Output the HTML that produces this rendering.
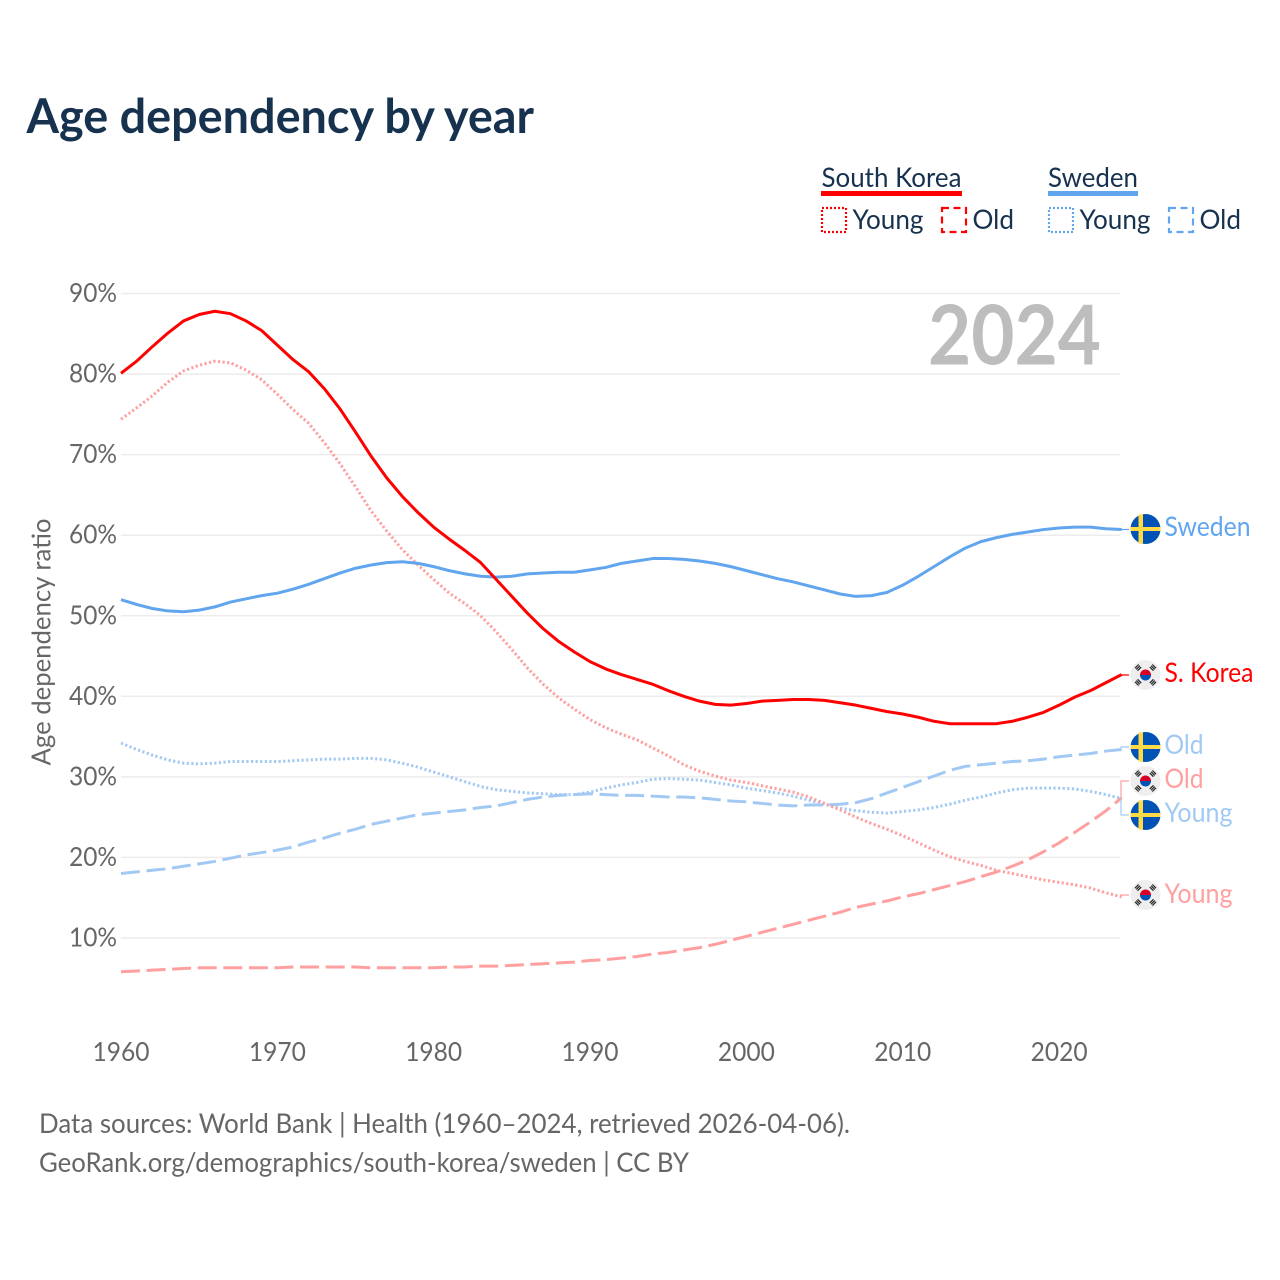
<!DOCTYPE html>
<html lang="en">
<head>
<meta charset="utf-8">
<title>Age dependency by year</title>
<style>
html,body{margin:0;padding:0;background:#fff;}
svg{display:block;}
text{font-family:"Lato","Carlito","Liberation Sans",sans-serif;}
</style>
</head>
<body>
<svg id="chart" width="1280" height="1280" viewBox="0 0 1280 1280" xmlns="http://www.w3.org/2000/svg">
  <rect width="1280" height="1280" fill="#fff"/>
  <text x="26.5" y="133" font-size="48" font-weight="700" fill="#17324f" textLength="507.5" lengthAdjust="spacingAndGlyphs">Age dependency by year</text>

  <g>
    <text x="821.5" y="187" font-size="27" fill="#17324f" textLength="140" lengthAdjust="spacingAndGlyphs">South Korea</text>
    <rect x="821" y="191" width="141" height="5" fill="#ff0000"/>
    <text x="1048" y="187" font-size="27" fill="#17324f" textLength="90" lengthAdjust="spacingAndGlyphs">Sweden</text>
    <rect x="1048" y="191" width="90" height="5" fill="#60a5ee"/>
    <rect x="822" y="208" width="24" height="24" fill="none" stroke="#ff0000" stroke-width="2.2" stroke-dasharray="2 2"/>
    <text x="852.5" y="229" font-size="27" fill="#17324f" textLength="71" lengthAdjust="spacingAndGlyphs">Young</text>
    <rect x="942" y="208" width="24" height="24" fill="none" stroke="#ff0000" stroke-width="2.2" stroke-dasharray="7 4.5"/>
    <text x="972.5" y="229" font-size="27" fill="#17324f" textLength="41.5" lengthAdjust="spacingAndGlyphs">Old</text>
    <rect x="1049" y="208" width="24" height="24" fill="none" stroke="#60a5ee" stroke-width="2.2" stroke-dasharray="2 2"/>
    <text x="1079.5" y="229" font-size="27" fill="#17324f" textLength="71" lengthAdjust="spacingAndGlyphs">Young</text>
    <rect x="1169" y="208" width="24" height="24" fill="none" stroke="#60a5ee" stroke-width="2.2" stroke-dasharray="7 4.5"/>
    <text x="1199.5" y="229" font-size="27" fill="#17324f" textLength="41.5" lengthAdjust="spacingAndGlyphs">Old</text>
  </g>

  <g id="grid"></g>
  <text x="928" y="364.5" font-size="82" font-weight="700" fill="#bdbdbd" textLength="173" lengthAdjust="spacingAndGlyphs">2024</text>
  <g id="yticks"></g>
  <g id="xticks"></g>
  <text transform="translate(50.5,642) rotate(-90)" text-anchor="middle" font-size="26" fill="#666" textLength="247" lengthAdjust="spacingAndGlyphs">Age dependency ratio</text>
  <g id="series"></g>
  <g id="ends"></g>

  <text x="39" y="1133" font-size="27" fill="#666" textLength="811" lengthAdjust="spacingAndGlyphs">Data sources: World Bank | Health (1960–2024, retrieved 2026-04-06).</text>
  <text x="39" y="1172" font-size="27" fill="#666" textLength="650" lengthAdjust="spacingAndGlyphs">GeoRank.org/demographics/south-korea/sweden | CC BY</text>
</svg>
<script>
const startYear = 1960;
const yTickValues = [10, 20, 30, 40, 50, 60, 70, 80, 90];
const xTickValues = [1960, 1970, 1980, 1990, 2000, 2010, 2020];

const koreaTotal = [80.1,81.6,83.4,85.1,86.6,87.4,87.8,87.5,86.6,85.4,83.6,81.8,80.3,78.2,75.7,72.8,69.8,67.1,64.8,62.8,61.0,59.5,58.1,56.6,54.5,52.4,50.3,48.4,46.8,45.5,44.3,43.4,42.7,42.1,41.5,40.7,40.0,39.4,39.0,38.9,39.1,39.4,39.5,39.6,39.6,39.5,39.2,38.9,38.5,38.1,37.8,37.4,36.9,36.6,36.6,36.6,36.6,36.9,37.4,38.0,38.9,39.9,40.7,41.7,42.7];
const koreaYoung = [74.4,75.8,77.3,79.0,80.4,81.1,81.6,81.4,80.5,79.3,77.5,75.6,73.9,71.5,68.9,66.0,63.0,60.5,58.2,56.3,54.5,52.8,51.5,50.0,48.0,45.8,43.5,41.5,39.8,38.4,37.1,36.1,35.3,34.6,33.6,32.6,31.5,30.7,30.1,29.6,29.3,28.9,28.5,28.1,27.5,26.7,25.9,25.0,24.2,23.5,22.7,21.8,20.9,20.1,19.5,19.0,18.4,18.0,17.6,17.2,16.9,16.6,16.2,15.6,15.1];
const koreaOld = [5.8,5.9,6.0,6.1,6.2,6.3,6.3,6.3,6.3,6.3,6.3,6.4,6.4,6.4,6.4,6.4,6.3,6.3,6.3,6.3,6.3,6.4,6.4,6.5,6.5,6.6,6.7,6.8,6.9,7.0,7.2,7.3,7.5,7.7,8.0,8.2,8.5,8.8,9.2,9.7,10.2,10.7,11.2,11.7,12.2,12.7,13.2,13.8,14.2,14.6,15.1,15.5,16.0,16.5,17.0,17.6,18.2,18.9,19.7,20.7,21.8,23.1,24.4,25.8,27.4];
const swedenTotal = [52.0,51.4,50.9,50.6,50.5,50.7,51.1,51.7,52.1,52.5,52.8,53.3,53.9,54.6,55.3,55.9,56.3,56.6,56.7,56.5,56.1,55.6,55.2,54.9,54.8,54.9,55.2,55.3,55.4,55.4,55.7,56.0,56.5,56.8,57.1,57.1,57.0,56.8,56.5,56.1,55.6,55.1,54.6,54.2,53.7,53.2,52.7,52.4,52.5,52.9,53.8,54.9,56.1,57.3,58.4,59.2,59.7,60.1,60.4,60.7,60.9,61.0,61.0,60.8,60.7];
const swedenYoung = [34.2,33.4,32.7,32.1,31.7,31.6,31.7,31.9,31.9,31.9,31.9,32.0,32.1,32.2,32.2,32.3,32.3,32.1,31.7,31.2,30.6,30.0,29.4,28.8,28.4,28.2,28.0,27.9,27.8,27.8,28.1,28.6,29.0,29.3,29.7,29.8,29.7,29.6,29.3,29.0,28.6,28.3,28.0,27.6,27.1,26.6,26.1,25.8,25.6,25.5,25.7,25.9,26.2,26.6,27.1,27.5,28.0,28.4,28.6,28.6,28.6,28.5,28.2,27.8,27.3];
const swedenOld = [18.0,18.2,18.4,18.6,18.9,19.2,19.5,19.9,20.3,20.6,20.9,21.3,21.9,22.4,23.0,23.5,24.1,24.5,24.9,25.3,25.5,25.7,25.9,26.2,26.4,26.8,27.2,27.5,27.7,27.8,27.9,27.8,27.7,27.7,27.6,27.5,27.5,27.4,27.2,27.0,26.9,26.7,26.5,26.4,26.5,26.5,26.6,26.8,27.3,28.0,28.7,29.4,30.1,30.8,31.3,31.5,31.7,31.9,32.0,32.2,32.5,32.7,32.9,33.2,33.4];

const NS = 'http://www.w3.org/2000/svg';
function xScale(year) { return 121 + (year - 1960) * 15.635; }
function yScale(v) { return 1018.5 - v * 8.055; }
function make(tag, attrs, parent, txt) {
  const el = document.createElementNS(NS, tag);
  for (const k in attrs) el.setAttribute(k, attrs[k]);
  if (txt !== undefined) el.textContent = txt;
  parent.appendChild(el);
  return el;
}

const gridG = document.getElementById('grid');
const yG = document.getElementById('yticks');
const xG = document.getElementById('xticks');
yTickValues.forEach(function (v) {
  const gl = make('line', {x1: 121, x2: 1120, y1: yScale(v), y2: yScale(v), stroke: '#ececec', 'stroke-width': 1.5}, gridG);
  
  
  const tl = make('text', {x: 117, y: yScale(v) + 8.5, 'text-anchor': 'end', 'font-size': 26, fill: '#666', textLength: 48, lengthAdjust: 'spacingAndGlyphs'}, yG, v + '%');
  
  
});
xTickValues.forEach(function (y) {
  const tl = make('text', {x: xScale(y), y: 1061, 'text-anchor': 'middle', 'font-size': 26, fill: '#666', textLength: 57, lengthAdjust: 'spacingAndGlyphs'}, xG, String(y));
  
  
});

function pathFor(arr) {
  return arr.map(function (v, i) {
    return (i ? 'L' : 'M') + xScale(startYear + i).toFixed(2) + ' ' + yScale(v).toFixed(2);
  }).join(' ');
}
const seriesG = document.getElementById('series');
function drawLine(name, arr, color, width, dash) {
  const attrs = {d: pathFor(arr), fill: 'none', stroke: color, 'stroke-width': width, 'stroke-linejoin': 'round'};
  if (dash) attrs['stroke-dasharray'] = dash;
  const p = make('path', attrs, seriesG);
  
  
}
const RED = '#ff0000', BLUE = '#60a5ee', LRED = '#ff9f9f', LBLUE = '#a2c9f3';
const DOT = '2.2 2.4', DASH = '19 6.6';
drawLine('line-sweden-young', swedenYoung, LBLUE, 3, DOT);
drawLine('line-sweden-old', swedenOld, LBLUE, 3, DASH);
drawLine('line-korea-young', koreaYoung, LRED, 3, DOT);
drawLine('line-korea-old', koreaOld, LRED, 3, DASH);
drawLine('line-sweden-total', swedenTotal, BLUE, 3, null);
drawLine('line-korea-total', koreaTotal, RED, 3, null);

const endsG = document.getElementById('ends');
function sweFlag(cy, name) {
  const g = make('g', {}, endsG);
  
  
  const cx = 1145.5;
  make('circle', {cx: cx, cy: cy, r: 15, fill: '#0052b4'}, g);
  make('rect', {x: cx - 7, y: cy - 14.6, width: 4.5, height: 29.2, fill: '#ffda44'}, g);
  make('rect', {x: cx - 15, y: cy - 2, width: 30, height: 4, fill: '#ffda44'}, g);
}
function korFlag(cy, name) {
  const g = make('g', {}, endsG);
  
  
  const cx = 1145.5;
  make('circle', {cx: cx, cy: cy, r: 15, fill: '#eeeeee'}, g);
  make('path', {d: 'M' + (cx - 5.5) + ' ' + cy + 'a5.5 5.5 0 0 1 11 0z', fill: '#d80027'}, g);
  make('path', {d: 'M' + (cx - 5.5) + ' ' + cy + 'a5.5 5.5 0 0 0 11 0z', fill: '#0052b4'}, g);
  [[-1, -1], [1, -1], [-1, 1], [1, 1]].forEach(function (s) {
    const tx = cx + s[0] * 7.4, ty = cy + s[1] * 7.4, ang = s[0] * s[1] > 0 ? -45 : 45;
    make('path', {d: 'M-2.6 -1.8h5.2M-2.6 0h5.2M-2.6 1.8h5.2', stroke: '#222', 'stroke-width': 1.2, fill: 'none', transform: 'translate(' + tx + ' ' + ty + ') rotate(' + ang + ')'}, g);
  });
}
function stub(name, color, arr, labelY) {
  const sy = yScale(arr[arr.length - 1]);
  const p = make('path', {d: 'M1121 ' + sy.toFixed(1) + ' V' + labelY + ' H1129', fill: 'none', stroke: color, 'stroke-width': 1.2}, endsG);
  
  
}
function label(name, txt, cy, color, w) {
  const t = make('text', {x: 1164.5, y: cy + 8, 'font-size': 27, fill: color, textLength: w, lengthAdjust: 'spacingAndGlyphs'}, endsG, txt);
  
  
}
stub('connector-sweden-total', BLUE, swedenTotal, 529.5);
stub('connector-korea-total', RED, koreaTotal, 675);
stub('connector-sweden-old', LBLUE, swedenOld, 747);
stub('connector-korea-old', LRED, koreaOld, 781);
stub('connector-sweden-young', LBLUE, swedenYoung, 815);
stub('connector-korea-young', LRED, koreaYoung, 895);
sweFlag(529, 'flag-sweden-total');
korFlag(675, 'flag-korea-total');
korFlag(781, 'flag-korea-old');
sweFlag(747, 'flag-sweden-old');
sweFlag(815, 'flag-sweden-young');
korFlag(895, 'flag-korea-young');
label('end-label-sweden', 'Sweden', 528, BLUE, 86);
label('end-label-korea', 'S. Korea', 674, RED, 89);
label('end-label-sweden-old', 'Old', 746, LBLUE, 39);
label('end-label-korea-old', 'Old', 780, LRED, 39);
label('end-label-sweden-young', 'Young', 814, LBLUE, 68);
label('end-label-korea-young', 'Young', 895, LRED, 68);
</script>
</body>
</html>
